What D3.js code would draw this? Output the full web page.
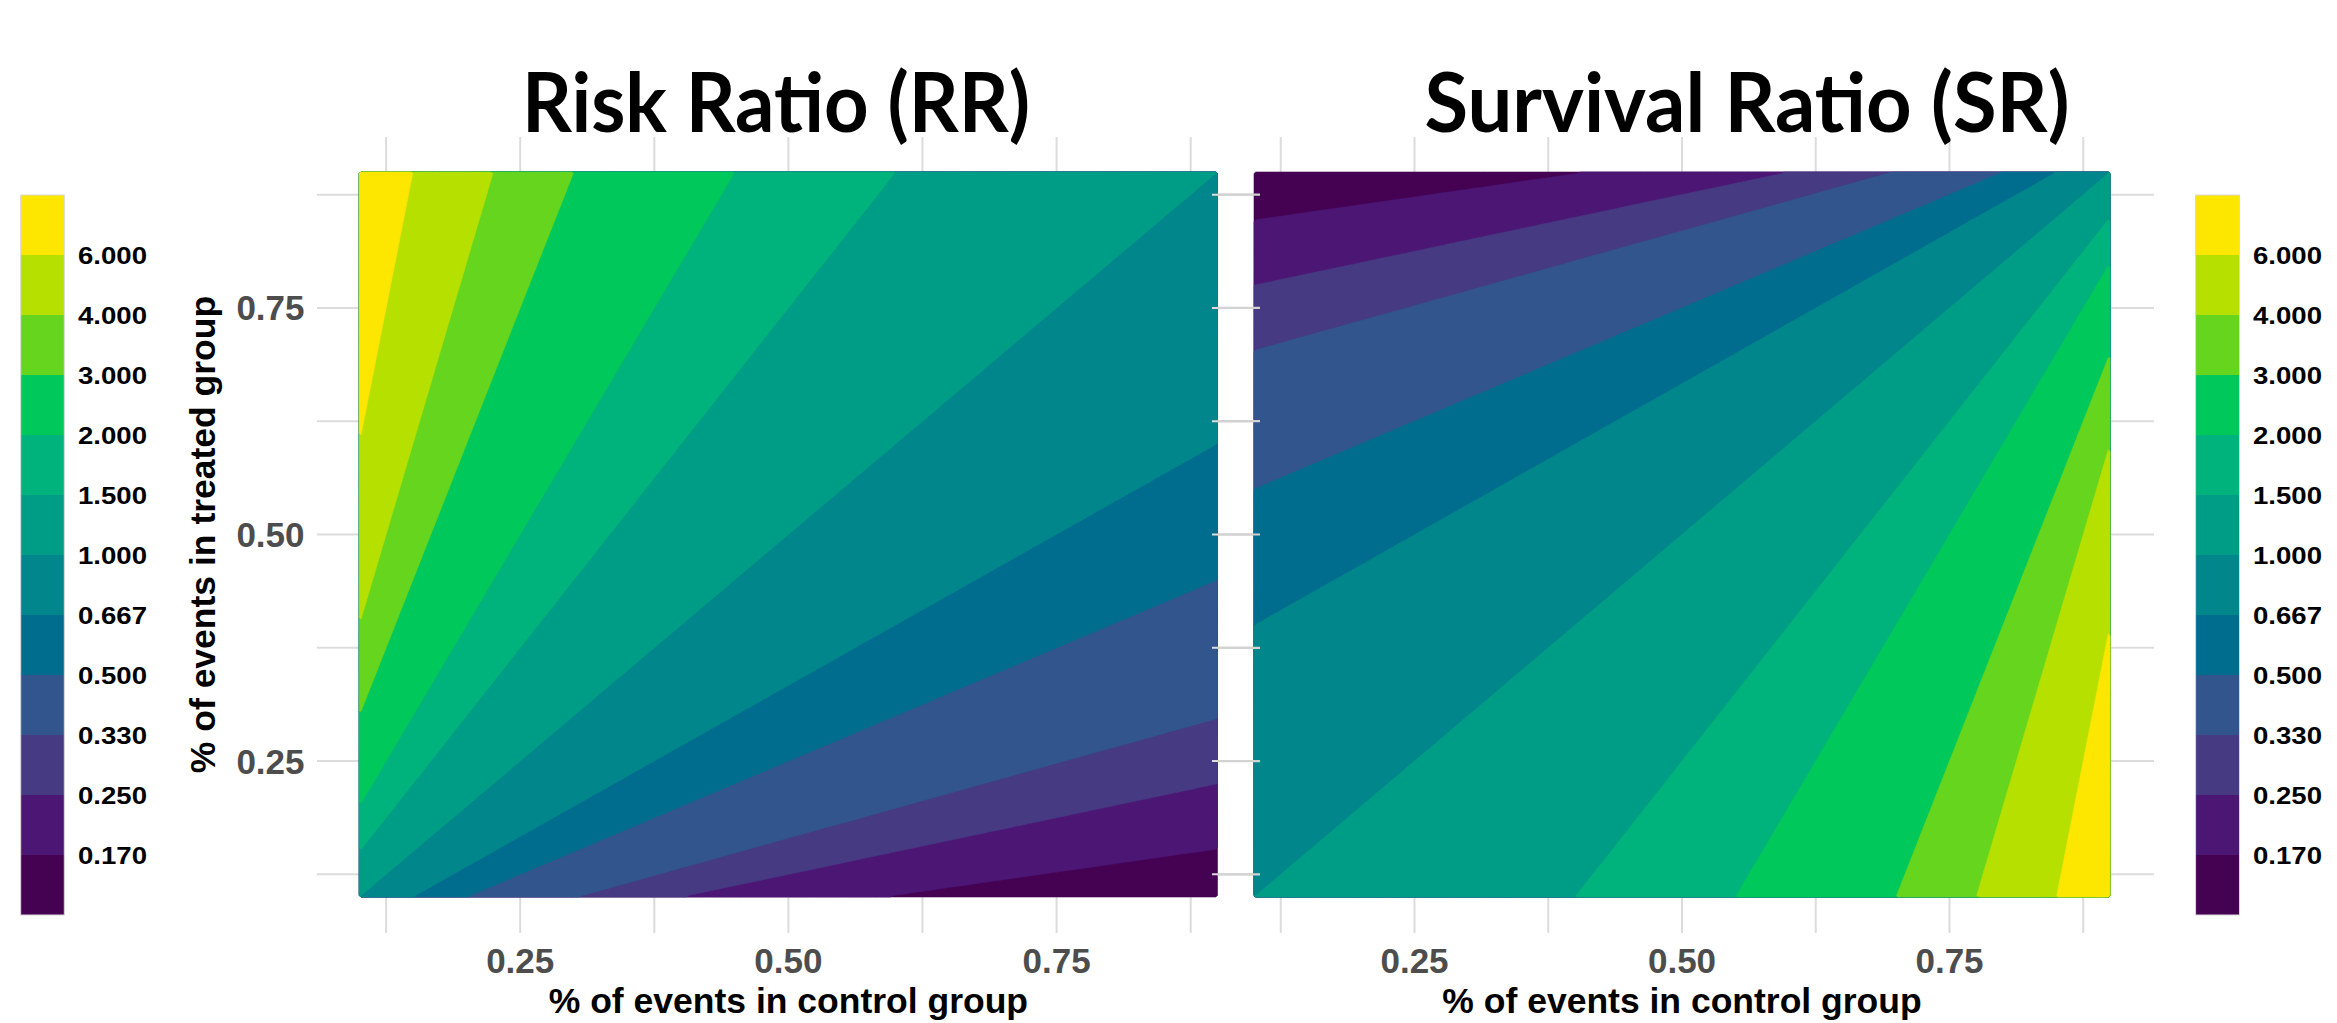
<!DOCTYPE html>
<html>
<head>
<meta charset="utf-8">
<script src="https://cdn.jsdelivr.net/npm/d3@7"></script>
<style>
  html, body { margin: 0; padding: 0; background: #ffffff; }
  svg { display: block; }
</style>
</head>
<body>
<svg id="chart" width="2337" height="1023"></svg>
<script>
// Event probabilities shown on both axes
const riskDomain = [0.1, 0.9];
const majorTicks = [0.25, 0.5, 0.75];
const tickLabels = ["0.25", "0.50", "0.75"];
const minorTicks = [0.125, 0.375, 0.625, 0.875];

// Contour bands of the ratio and their colours (lowest band first)
const ratioBreaks = [0.17, 0.25, 0.33, 0.5, 0.667, 1, 1.5, 2, 3, 4, 6];
const breakLabels = ["0.170", "0.250", "0.330", "0.500", "0.667", "1.000",
                     "1.500", "2.000", "3.000", "4.000", "6.000"];
const bandColors = ["#450152", "#4c1675", "#463a83", "#31558c", "#006d8f", "#00868b",
                    "#009d86", "#00b27b", "#00c85a", "#66d51e", "#b5e000", "#fde600"];

const panelTitles = ["Risk Ratio (RR)", "Survival Ratio (SR)"];
const xAxisTitle = "% of events in control group";
const yAxisTitle = "% of events in treated group";

// Ratio of treated to control: risk of the event, and survival (no event)
const ratioMeasures = [
  (control, treated) => treated / control,
  (control, treated) => (1 - treated) / (1 - control)
];

const svg = d3.select("#chart");
const axisFont = "'Liberation Sans', Arial, Helvetica, sans-serif";
const gridColor = "#dcdcdc";

const yScale = d3.scaleLinear().domain(riskDomain).range([897, 172]);
const panels = [
  { x: d3.scaleLinear().domain(riskDomain).range([359.3, 1217.5]),
    gridLeft: 317, gridRight: 1260, titleX: 776, titleLen: 508 },
  { x: d3.scaleLinear().domain(riskDomain).range([1254, 2110]),
    gridLeft: 1212, gridRight: 2154, titleX: 1747, titleLen: 645 }
];
const gridTop = 137, gridBottom = 933;
const allGrid = majorTicks.concat(minorTicks);

// Sampling grid for the contour bands (values at cell centres)
const n = 240;
const cellToP = c => riskDomain[0] + c * (riskDomain[1] - riskDomain[0]) / n;

panels.forEach((panel, k) => {
  const g = svg.append("g");
  const xs = panel.x;

  // background grid
  g.selectAll(".vgrid").data(allGrid).join("line")
    .attr("x1", d => xs(d)).attr("x2", d => xs(d))
    .attr("y1", gridTop).attr("y2", gridBottom)
    .attr("stroke", gridColor).attr("stroke-width", 2);
  g.selectAll(".hgrid").data(allGrid).join("line")
    .attr("x1", panel.gridLeft).attr("x2", panel.gridRight)
    .attr("y1", d => yScale(d)).attr("y2", d => yScale(d))
    .attr("stroke", gridColor).attr("stroke-width", 2);

  // ratio surface
  const f = ratioMeasures[k];
  const values = new Float64Array(n * n);
  for (let j = 0; j < n; j++) {
    for (let i = 0; i < n; i++) {
      values[j * n + i] = f(cellToP(i + 0.5), cellToP(j + 0.5));
    }
  }
  const thresholds = [1e-9].concat(ratioBreaks);
  const contours = d3.contours().size([n, n]).thresholds(thresholds)(values);
  const path = d3.geoPath(d3.geoTransform({
    point: function (x, y) { this.stream.point(xs(cellToP(x)), yScale(cellToP(y))); }
  }));
  g.selectAll(".band").data(contours).join("path")
    .attr("d", path)
    .attr("fill", (d, i) => bandColors[i])
    .attr("stroke", (d, i) => bandColors[i])
    .attr("stroke-width", 0.6);

  // x tick labels
  g.selectAll(".xtick").data(majorTicks).join("text")
    .attr("x", d => xs(d)).attr("y", 973)
    .attr("text-anchor", "middle")
    .attr("font-family", axisFont).attr("font-weight", "bold")
    .attr("font-size", 35).attr("fill", "#4d4d4d")
    .text((d, i) => tickLabels[i]);

  // x axis title
  const [r0, r1] = xs.range();
  g.append("text")
    .attr("x", (r0 + r1) / 2).attr("y", 1013)
    .attr("text-anchor", "middle")
    .attr("font-family", axisFont).attr("font-weight", "bold")
    .attr("font-size", 35.5).attr("fill", "#000")
    .text(xAxisTitle);

  // panel title
  g.append("text")
    .attr("x", panel.titleX).attr("y", 131.5)
    .attr("text-anchor", "middle")
    .attr("font-family", "Lato, 'Open Sans', sans-serif").attr("font-weight", 700)
    .attr("font-size", 83).attr("fill", "#000")
    .attr("textLength", panel.titleLen).attr("lengthAdjust", "spacingAndGlyphs")
    .text(panelTitles[k]);
});

// grid stubs between the two panels sit above the fills
svg.append("g").selectAll("line").data(allGrid).join("line")
  .attr("x1", 1217.5).attr("x2", 1260)
  .attr("y1", d => yScale(d)).attr("y2", d => yScale(d))
  .attr("stroke", "#d2d2d2").attr("stroke-width", 2.2);

// y tick labels (shared axis on the left panel)
svg.append("g").selectAll("text").data(majorTicks).join("text")
  .attr("x", 304.5).attr("y", d => yScale(d) + 12.5)
  .attr("text-anchor", "end")
  .attr("font-family", axisFont).attr("font-weight", "bold")
  .attr("font-size", 35).attr("fill", "#4d4d4d")
  .text((d, i) => tickLabels[i]);

svg.append("text")
  .attr("transform", "translate(215," + (yScale.range()[0] + yScale.range()[1]) / 2 + ") rotate(-90)")
  .attr("text-anchor", "middle")
  .attr("font-family", axisFont).attr("font-weight", "bold")
  .attr("font-size", 35.5).attr("fill", "#000")
  .text(yAxisTitle);

// colour legends, one per panel
const legendY = d3.scaleLinear().domain([0, bandColors.length]).range([915, 195]);
[{ x: 20.7, w: 43.6, labelX: 78 }, { x: 2195.6, w: 43.9, labelX: 2253 }].forEach(lg => {
  const g = svg.append("g");
  g.selectAll("rect").data(bandColors).join("rect")
    .attr("x", lg.x).attr("width", lg.w)
    .attr("y", (d, i) => legendY(i + 1))
    .attr("height", (d, i) => legendY(i) - legendY(i + 1))
    .attr("fill", d => d);
  g.append("rect")
    .attr("x", lg.x).attr("y", legendY(bandColors.length))
    .attr("width", lg.w).attr("height", legendY(0) - legendY(bandColors.length))
    .attr("fill", "none").attr("stroke", "#d8d8d8").attr("stroke-width", 1);
  g.selectAll("text").data(breakLabels).join("text")
    .attr("x", lg.labelX).attr("y", (d, i) => legendY(i + 1) + 8.8)
    .attr("font-family", axisFont).attr("font-weight", "bold")
    .attr("font-size", 24.5).attr("fill", "#000")
    .attr("textLength", 69).attr("lengthAdjust", "spacingAndGlyphs")
    .text(d => d);
});
</script>
</body>
</html>
